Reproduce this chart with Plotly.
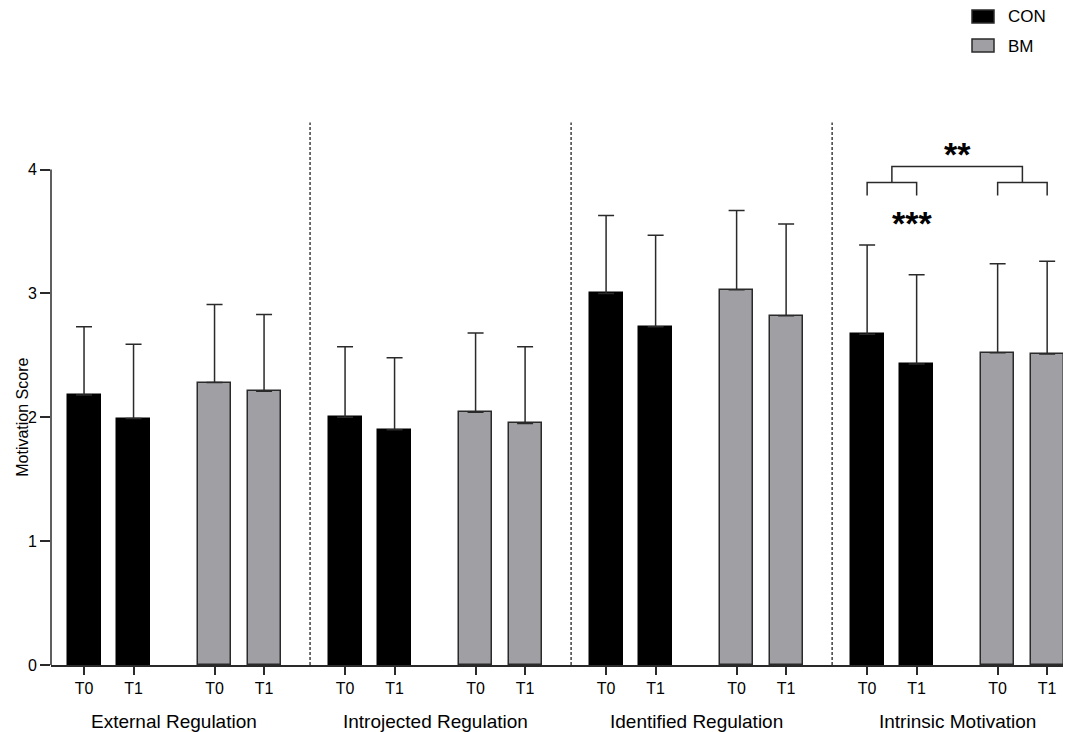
import plotly.graph_objects as go

# Motivation scores (mean and upper SD) per regulation type
groups = ["External Regulation", "Introjected Regulation", "Identified Regulation", "Intrinsic Motivation"]
times = ["T0", "T1"]

con_t0 = [2.18, 2.00, 3.00, 2.67]
con_t1 = [1.99, 1.90, 2.73, 2.43]
bm_t0 = [2.28, 2.04, 3.03, 2.52]
bm_t1 = [2.21, 1.95, 2.82, 2.51]

con_t0_sd = [0.55, 0.57, 0.63, 0.72]
con_t1_sd = [0.60, 0.58, 0.74, 0.72]
bm_t0_sd = [0.63, 0.64, 0.64, 0.72]
bm_t1_sd = [0.62, 0.62, 0.74, 0.75]

FONT = "Arial, Liberation Sans, sans-serif"
GREY = "#a0a0a4"
LINE = "#2a2a2a"

# x layout: pair of bars, gap, pair of bars, gap ...
PAIR_GAP = 1.636
PERIOD = 2 + 2 * PAIR_GAP
BAR_W = 0.667

# plot area in page pixels (page body adds an 8px margin)
PLOT_L, PLOT_R, PLOT_T, PLOT_B = 51, 1063, 120, 665


def xpos(g, offset):
    return g * PERIOD + offset


def paper_x(px):
    return (px - PLOT_L) / (PLOT_R - PLOT_L)


def paper_y(py):
    return (PLOT_B - py) / (PLOT_B - PLOT_T)


con_x, con_y, con_err = [], [], []
bm_x, bm_y, bm_err = [], [], []
for g in range(len(groups)):
    con_x += [xpos(g, 0), xpos(g, 1)]
    con_y += [con_t0[g], con_t1[g]]
    con_err += [con_t0_sd[g], con_t1_sd[g]]
    bm_x += [xpos(g, 1 + PAIR_GAP), xpos(g, 2 + PAIR_GAP)]
    bm_y += [bm_t0[g], bm_t1[g]]
    bm_err += [bm_t0_sd[g], bm_t1_sd[g]]

err_style = dict(type="data", symmetric=False, arrayminus=[0] * len(con_err),
                 color=LINE, thickness=1.5, width=8)

fig = go.Figure()
fig.add_trace(go.Bar(
    name="CON", x=con_x, y=con_y, width=BAR_W,
    marker=dict(color="black", line=dict(color="black", width=1.5)),
    error_y=dict(array=con_err, **err_style),
))
fig.add_trace(go.Bar(
    name="BM", x=bm_x, y=bm_y, width=BAR_W,
    marker=dict(color=GREY, line=dict(color=LINE, width=1.5)),
    error_y=dict(array=bm_err, **err_style),
))

tick_x = sorted(con_x + bm_x)
tick_text = times * (len(tick_x) // 2)

x_min = -0.667
x_max = xpos(3, 2 + PAIR_GAP) + 0.32

shapes = []
# dashed separators between regulation types
for g in range(1, len(groups)):
    xs = xpos(g, 0) - 0.707
    shapes.append(dict(type="line", xref="x", yref="y", x0=xs, x1=xs, y0=0, y1=4.38,
                       line=dict(color="#222", width=1.3, dash="3px,2px")))
# y axis line only up to 4
shapes.append(dict(type="line", xref="paper", yref="y", x0=0, x1=0, y0=0, y1=4,
                   line=dict(color=LINE, width=1.5)))

# significance brackets for intrinsic motivation
g = 3
leg_lo, leg_hi, top = 3.79, 3.895, 4.024
left_mid = xpos(g, 0.5)
right_mid = xpos(g, 1.5 + PAIR_GAP)
for a, b in [(xpos(g, 0), xpos(g, 1)), (xpos(g, 1 + PAIR_GAP), xpos(g, 2 + PAIR_GAP))]:
    shapes.append(dict(type="path", xref="x", yref="y",
                       path=f"M{a},{leg_lo} L{a},{leg_hi} L{b},{leg_hi} L{b},{leg_lo}",
                       line=dict(color=LINE, width=1.5)))
shapes.append(dict(type="path", xref="x", yref="y",
                   path=f"M{left_mid},{leg_hi} L{left_mid},{top} L{right_mid},{top} L{right_mid},{leg_hi}",
                   line=dict(color=LINE, width=1.5)))

star_font = dict(family=FONT, size=34, color="black")
annotations = [
    dict(text="<b>**</b>", x=(left_mid + right_mid) / 2, y=4.14, xref="x", yref="y",
         showarrow=False, font=star_font, yshift=-2),
    dict(text="<b>***</b>", x=xpos(g, 0.9), y=3.59, xref="x", yref="y",
         showarrow=False, font=star_font, yshift=-3),
    dict(text="Motivation Score", x=0, xshift=-39, y=2, xref="paper", yref="y",
         textangle=-90, showarrow=False, font=dict(family=FONT, size=16, color="black")),
]
for i, name in enumerate(groups):
    annotations.append(dict(text=name, x=xpos(i, 1 + PAIR_GAP / 2), y=0, yshift=-56,
                            xref="x", yref="y", showarrow=False,
                            font=dict(family=FONT, size=19, color="black")))

# legend drawn by hand (top right, above the plot area)
for i, tr in enumerate(fig.data):
    row_top = 10 + 29 * i
    shapes.append(dict(type="rect", xref="paper", yref="paper",
                       x0=paper_x(972), x1=paper_x(994),
                       y0=paper_y(row_top + 13), y1=paper_y(row_top),
                       fillcolor=tr.marker.color, line=dict(color=LINE, width=1.5)))
    annotations.append(dict(text=tr.name, xref="paper", yref="paper",
                            x=paper_x(1006), y=paper_y(row_top + 7),
                            xanchor="left", yanchor="middle", showarrow=False,
                            font=dict(family=FONT, size=17, color="black")))

fig.update_layout(
    width=1076,
    height=724,
    margin=dict(l=PLOT_L - 8, r=1084 - PLOT_R, t=PLOT_T - 8, b=732 - PLOT_B),
    plot_bgcolor="white",
    paper_bgcolor="white",
    bargap=0,
    showlegend=False,
    font=dict(family=FONT, color="black"),
    shapes=shapes,
    annotations=annotations,
    xaxis=dict(range=[x_min, x_max], tickmode="array", tickvals=tick_x, ticktext=tick_text,
               ticks="outside", ticklen=8, tickwidth=1.5, tickcolor=LINE,
               showline=True, linecolor=LINE, linewidth=1.5, showgrid=False, zeroline=False,
               tickfont=dict(family=FONT, size=16, color="black")),
    yaxis=dict(range=[0, 4.4], tickmode="array", tickvals=[0, 1, 2, 3, 4],
               ticks="outside", ticklen=10, tickwidth=1.5, tickcolor=LINE,
               showline=False, showgrid=False, zeroline=False,
               tickfont=dict(family=FONT, size=16, color="black")),
)

fig.write_html("out.html")
